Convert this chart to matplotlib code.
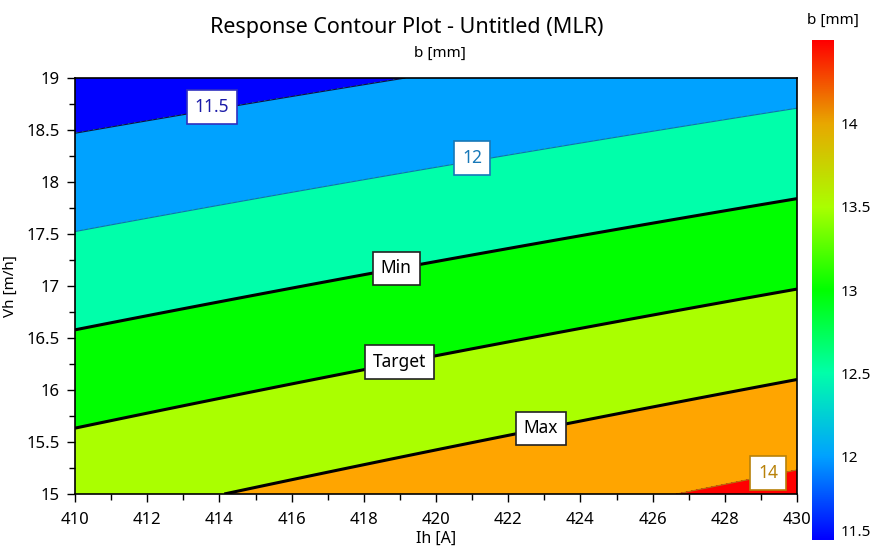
import numpy as np
import matplotlib
matplotlib.use("Agg")
import matplotlib.pyplot as plt
from matplotlib.colors import LinearSegmentedColormap

plt.rcParams['font.family'] = ['Noto Sans', 'DejaVu Sans']

# ---- data (MLR model in coded units) ----
ih_range = [410, 430]          # Ih [A]
vh_range = [15, 19]            # Vh [m/h]
coef_names = ["const", "Ih", "Vh", "Ih*Vh"]
coef_values = [12.63, 0.353, -1.104, -0.046]

levels = [11.5, 12.0, 12.5, 13.0, 13.5, 14.0]
level_labels = ["11.5", "12", "Min", "Target", "Max", "14"]
label_pos_ih = [413.8, 421.0, 418.9, 419.0, 422.9, 429.2]
label_pos_vh = [18.72, 18.23, 17.17, 16.27, 15.63, 15.2]

band_colors = ["#0000FF", "#00A2FF", "#00FFAA", "#00FF00", "#AAFF00", "#FFA500", "#FF0000"]
line_colors = ["#101040", "#1070B0", "#000000", "#000000", "#000000", "#B07A10"]
line_widths = [0.8, 0.8, 2.2, 2.2, 2.2, 0.8]
text_colors = ["#1A1AA8", "#1878B8", "#000000", "#000000", "#000000", "#B8820A"]
box_edge_colors = ["#3030C0", "#1878B8", "#222222", "#222222", "#222222", "#B8820A"]

cbar_nodes = [11.5, 12.0, 12.5, 13.0, 13.5, 14.0, 14.5]
cbar_node_colors = ["#0000FF", "#00A2FF", "#00FFAA", "#00FF00", "#AAFF00", "#E8A800", "#FF0000"]
cbar_ticks = [11.5, 12, 12.5, 13, 13.5, 14]

# ---- model surface ----
I = np.linspace(ih_range[0], ih_range[1], 201)
V = np.linspace(vh_range[0], vh_range[1], 201)
II, VV = np.meshgrid(I, V)
x = (II - 420) / 10
y = (VV - 17) / 2
B = coef_values[0] + coef_values[1] * x + coef_values[2] * y + coef_values[3] * x * y

fig = plt.figure(figsize=(8.72, 5.5), dpi=100)
ax = fig.add_axes([75 / 872, 1 - 494 / 550, (797 - 75) / 872, (494 - 78) / 550])
cax = fig.add_axes([812 / 872, 1 - 540 / 550, 22 / 872, 500 / 550])

bounds = [-100] + levels + [100]
ax.contourf(II, VV, B, levels=bounds, colors=band_colors)
cs = ax.contour(II, VV, B, levels=levels, colors=line_colors, linewidths=line_widths)

fmt = {lv: lab for lv, lab in zip(levels, level_labels)}
texts = ax.clabel(cs, levels=levels, fmt=fmt, inline=False, fontsize=12.5,
                  manual=list(zip(label_pos_ih, label_pos_vh)))
for t in texts:
    i = level_labels.index(t.get_text())
    t.set_rotation(0)
    t.set_color(text_colors[i])
    t.set_bbox(dict(boxstyle="square,pad=0.45", facecolor="white",
                    edgecolor=box_edge_colors[i], linewidth=1.2))
    t.set_position((label_pos_ih[i], label_pos_vh[i]))
    t.set_zorder(5)

ax.set_xlim(*ih_range)
ax.set_ylim(*vh_range)
ax.set_xticks(np.arange(410, 431, 2))
ax.set_xticks(np.arange(410, 431, 1), minor=True)
ax.set_yticks(np.arange(15, 19.01, 0.5))
ax.set_yticks(np.arange(15, 19.01, 0.25), minor=True)
ax.set_yticklabels(["15", "15.5", "16", "16.5", "17", "17.5", "18", "18.5", "19"])
ax.tick_params(which="major", direction="out", length=6, width=1, labelsize=12, pad=5)
ax.tick_params(axis="x", which="major", pad=7)
ax.tick_params(which="minor", direction="out", length=4, width=1)
for s in ax.spines.values():
    s.set_linewidth(1.2)
ax.set_xlabel("Ih [A]", fontsize=11.5, labelpad=2)
ax.set_ylabel("Vh [m/h]", fontsize=11, labelpad=6)

# colorbar
cmap = LinearSegmentedColormap.from_list(
    "resp", [((v - cbar_nodes[0]) / (cbar_nodes[-1] - cbar_nodes[0]), c)
             for v, c in zip(cbar_nodes, cbar_node_colors)])
grad = np.linspace(cbar_nodes[0], cbar_nodes[-1], 256).reshape(-1, 1)
cax.imshow(grad, aspect="auto", cmap=cmap, origin="lower",
           extent=[0, 1, cbar_nodes[0], cbar_nodes[-1]])
cax.set_xticks([])
cax.yaxis.tick_right()
cax.set_yticks(cbar_ticks)
cax.set_yticklabels(["11.5", "12", "12.5", "13", "13.5", "14"])
cax.tick_params(axis="y", length=0, labelsize=11, pad=5)
cax.get_yticklabels()[0].set_verticalalignment("bottom")
for s in cax.spines.values():
    s.set_visible(False)
fig.text(833 / 872, 1 - 20 / 550, "b [mm]", ha="center", va="center", fontsize=11)

fig.text(407 / 872, 1 - 27 / 550, "Response Contour Plot - Untitled (MLR)",
         ha="center", va="center", fontsize=15.5)
fig.text(440 / 872, 1 - 53 / 550, "b [mm]", ha="center", va="center", fontsize=11)

fig.savefig("out.png", dpi=100)
